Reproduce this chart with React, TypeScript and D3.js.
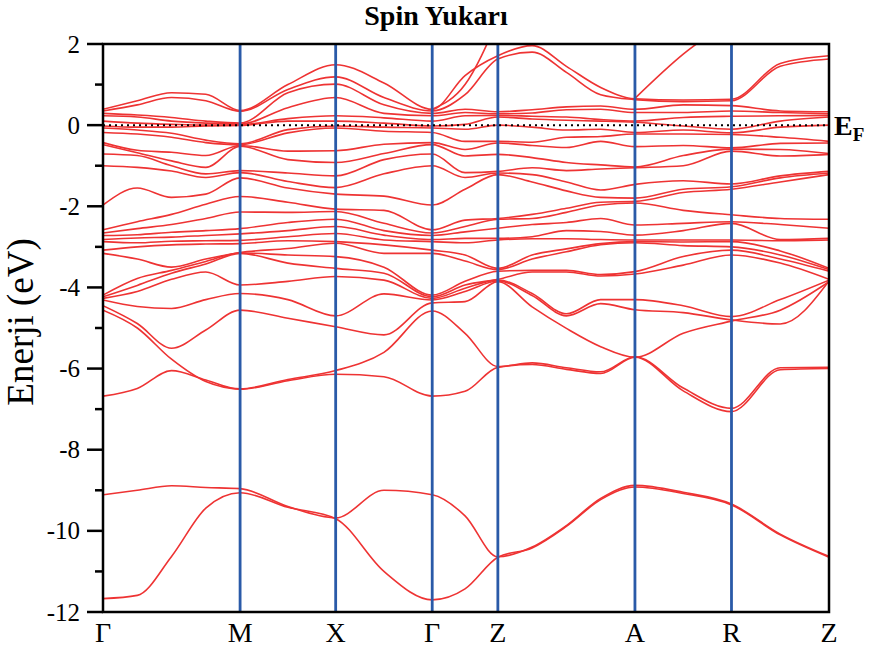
import { useEffect, useRef } from "react";
import * as d3 from "d3";

// k-path sample positions (units of pi/a) and high-symmetry points
const kPoints = [0, 0.355, 0.71, 1.065, 1.42, 1.915, 2.41, 2.91, 3.41, 3.75, 4.09, 4.445, 4.8, 5.155, 5.51, 6.01, 6.51, 7.015, 7.52];
const symK = [0, 1.42, 2.41, 3.41, 4.09, 5.51, 6.51, 7.52];
const symLabels = ["Γ", "M", "X", "Γ", "Z", "A", "R", "Z"];
const yMajor = [2, 0, -2, -4, -6, -8, -10, -12];
const yMinor = [1, -1, -3, -5, -7, -9, -11];

type Band = (number | null)[];

// bands, one value per k-point (eV)
const deepBands: Band[] = [
  [-11.67, -11.59, -10.63, -9.44, -9.06, -9.42, -9.7, -11.0, -11.7, -11.43, -10.65, -10.42, -9.89, -9.23, -8.92, -9.08, -9.36, -10.1, -10.65],
  [-9.11, -9.0, -8.89, -8.93, -8.96, -9.4, -9.68, -9.0, -9.11, -9.63, -10.64, -10.4, -9.87, -9.2, -8.88, -9.05, -9.34, -10.08, -10.63],
];

const lowBands: Band[] = [
  [-6.68, -6.49, -6.05, -6.28, -6.51, -6.3, -6.14, -6.2, -6.68, -6.56, -5.97, -5.9, -6.02, -6.12, -5.72, -6.55, -7.06, -6.03, -6.0],
  [-4.56, -5.0, -5.77, -6.32, -6.5, -6.27, -6.05, -5.6, -4.58, -5.13, -5.95, -5.86, -5.98, -6.08, -5.71, -6.48, -6.98, -5.98, -5.97],
  [-4.45, -4.89, -5.5, -5.05, -4.56, -4.76, -4.97, -5.17, -4.38, -4.35, -3.86, -4.48, -5.01, -5.46, -5.72, -5.13, -4.83, -4.56, -3.86],
];

const midBands: Band[] = [
  [-4.31, -4.47, -4.52, -4.3, -4.15, -4.3, -4.7, -4.16, -4.31, -4.1, -3.84, -4.2, -4.7, -4.4, -4.55, -4.62, -4.8, -4.9, -3.84],
  [-4.27, -4.1, -3.8, -3.62, -3.94, -3.85, -3.73, -3.82, -4.27, -4.02, -3.82, -4.15, -4.65, -4.3, -4.3, -4.45, -4.72, -4.3, -3.82],
  [-4.23, -3.95, -3.65, -3.42, -3.16, -3.4, -3.53, -3.65, -4.23, -3.94, -3.8, -3.62, -3.62, -3.72, -3.67, -3.45, -3.2, -3.4, -3.8],
  [-4.19, -3.78, -3.58, -3.36, -3.15, -3.2, -3.24, -3.5, -4.19, -3.85, -3.6, -3.58, -3.58, -3.68, -3.61, -3.24, -3.08, -3.3, -3.6],
  [-3.16, -3.3, -3.5, -3.3, -3.14, -3.04, -2.91, -3.16, -3.16, -3.35, -3.56, -3.3, -3.12, -2.95, -2.9, -2.97, -3.0, -3.2, -3.56],
  [-3.08, -3.0, -2.95, -2.93, -2.92, -2.85, -2.87, -2.95, -3.08, -3.2, -3.53, -3.2, -3.05, -2.92, -2.87, -2.88, -2.87, -3.1, -3.53],
  [-2.87, -2.9, -2.86, -2.85, -2.84, -2.75, -2.67, -2.83, -2.87, -2.9, -2.83, -2.8, -2.8, -2.82, -2.83, -2.83, -2.83, -2.85, -2.83],
  [-2.82, -2.78, -2.76, -2.72, -2.68, -2.6, -2.5, -2.71, -2.82, -2.79, -2.79, -2.75, -2.6, -2.62, -2.71, -2.6, -2.42, -2.82, -2.79],
  [-2.72, -2.7, -2.64, -2.6, -2.55, -2.4, -2.32, -2.6, -2.72, -2.63, -2.54, -2.45, -2.4, -2.3, -2.46, -2.42, -2.38, -2.45, -2.54],
  [-2.66, -2.55, -2.45, -2.3, -2.14, -2.15, -2.13, -2.42, -2.66, -2.5, -2.32, -2.3, -2.15, -1.97, -1.92, -2.1, -2.21, -2.3, -2.32],
  [-2.58, -2.38, -2.2, -1.95, -1.76, -1.9, -2.07, -2.1, -2.58, -2.34, -2.3, -2.2, -2.05, -1.9, -1.88, -1.66, -1.58, -1.4, -1.22],
];

const upperBands: Band[] = [
  [-1.97, -1.55, -1.78, -1.7, -1.3, -1.55, -1.7, -1.75, -1.97, -1.58, -1.22, -1.4, -1.62, -1.78, -1.8, -1.58, -1.52, -1.3, -1.18],
  [-1.0, -1.04, -1.13, -1.29, -1.17, -1.39, -1.54, -1.2, -1.0, -1.29, -1.18, -1.22, -1.4, -1.6, -1.46, -1.37, -1.45, -1.25, -1.14],
  [-0.71, -0.75, -1.0, -1.2, -1.12, -1.18, -1.25, -0.85, -0.71, -1.17, -1.14, -1.05, -1.12, -1.08, -1.05, -1.0, -0.64, -0.76, -0.72],
  [-0.48, -0.68, -0.88, -1.04, -0.52, -0.85, -0.92, -0.7, -0.48, -0.76, -0.72, -0.8, -0.92, -0.98, -1.03, -0.75, -0.59, -0.6, -0.7],
  [-0.43, -0.62, -0.67, -0.75, -0.5, -0.64, -0.63, -0.47, -0.43, -0.6, -0.44, -0.5, -0.55, -0.4, -0.53, -0.5, -0.56, -0.45, -0.44],
  [-0.18, -0.22, -0.3, -0.43, -0.48, -0.19, -0.07, -0.15, -0.18, -0.4, -0.4, -0.42, -0.3, -0.28, -0.22, -0.22, -0.23, -0.3, -0.4],
  [-0.07, -0.12, -0.2, -0.37, -0.46, -0.11, -0.02, -0.05, -0.07, -0.1, 0.0, -0.05, -0.12, -0.1, -0.18, -0.12, -0.19, -0.05, 0.0],
  [-0.02, -0.05, -0.05, -0.02, -0.01, 0.1, 0.1, 0.05, -0.02, 0.02, 0.2, 0.15, 0.12, 0.1, 0.07, -0.02, -0.1, 0.1, 0.2],
  [0.1, 0.05, 0.02, 0.0, 0.01, 0.16, 0.23, 0.18, 0.1, 0.23, 0.24, 0.22, 0.2, 0.14, 0.1, 0.19, 0.22, 0.23, 0.24],
  [0.23, 0.2, 0.1, 0.05, 0.03, 0.43, 0.68, 0.29, 0.23, 0.31, 0.28, 0.3, 0.38, 0.39, 0.31, 0.31, 0.35, 0.31, 0.28],
  [0.29, 0.25, 0.19, 0.1, 0.05, 0.8, 1.01, 0.5, 0.29, 0.39, 0.33, 0.38, 0.45, 0.47, 0.39, 0.5, 0.48, 0.35, 0.33],
  [0.35, 0.5, 0.68, 0.6, 0.34, 0.88, 1.19, 0.68, 0.35, 0.75, 1.63, 1.8, 1.3, 0.75, 0.63, 0.58, 0.6, 1.45, 1.63],
  [0.39, 0.6, 0.8, 0.76, 0.36, 1.0, 1.49, 1.04, 0.39, 1.22, 1.71, 1.96, 1.45, 0.93, 0.65, 0.62, 0.64, 1.52, 1.71],
];

// bands that only enter the window on part of the path
const partialBands: Band[] = [
  [null, null, null, null, null, null, null, null, 0.39, 1.0, 2.6, null, null, null, null, null, null, null, null],
  [null, null, null, null, null, null, null, null, null, null, null, null, null, null, 0.66, 1.75, 2.6, null, null],
];

const W = 879;
const H = 652;
const left = 103;
const right = 829;
const top = 44;
const bottom = 612;
const serif = "'Liberation Serif', 'Times New Roman', Times, serif";

export default function App(): JSX.Element {
  const ref = useRef<SVGSVGElement | null>(null);

  useEffect(() => {
    if (!ref.current) return;
    const svg = d3.select(ref.current);
    svg.selectAll("*").remove();

    const x = d3.scaleLinear().domain([0, symK[symK.length - 1]]).range([left, right]);
    const y = d3.scaleLinear().domain([-12, 2]).range([bottom, top]);

    svg.append("defs")
      .append("clipPath")
      .attr("id", "plot-clip")
      .append("rect")
      .attr("x", left)
      .attr("y", top)
      .attr("width", right - left)
      .attr("height", bottom - top);

    const line = d3
      .line<number | null>()
      .defined((d) => d !== null)
      .x((_, i) => x(kPoints[i]))
      .y((d) => y(d as number))
      .curve(d3.curveMonotoneX);

    const allBands = [...deepBands, ...lowBands, ...midBands, ...upperBands, ...partialBands];

    svg.append("g")
      .attr("clip-path", "url(#plot-clip)")
      .selectAll("path")
      .data(allBands)
      .join("path")
      .attr("d", (d) => line(d))
      .attr("fill", "none")
      .attr("stroke", "#ee3333")
      .attr("stroke-width", 1.6);

    // high-symmetry verticals
    svg.append("g")
      .selectAll("line")
      .data(symK.slice(1, -1))
      .join("line")
      .attr("x1", (d) => x(d))
      .attr("x2", (d) => x(d))
      .attr("y1", top)
      .attr("y2", bottom)
      .attr("stroke", "#2a5aa8")
      .attr("stroke-width", 2.8);

    // Fermi level
    svg.append("line")
      .attr("x1", left)
      .attr("x2", right)
      .attr("y1", y(0))
      .attr("y2", y(0))
      .attr("stroke", "#000")
      .attr("stroke-width", 2)
      .attr("stroke-dasharray", "2 4");

    // frame
    svg.append("rect")
      .attr("x", left)
      .attr("y", top)
      .attr("width", right - left)
      .attr("height", bottom - top)
      .attr("fill", "none")
      .attr("stroke", "#000")
      .attr("stroke-width", 2.5);

    const ticks = svg.append("g");
    ticks.selectAll("line.major")
      .data(yMajor)
      .join("line")
      .attr("class", "major")
      .attr("x1", left - 16)
      .attr("x2", left)
      .attr("y1", (d) => y(d))
      .attr("y2", (d) => y(d))
      .attr("stroke", "#000")
      .attr("stroke-width", 2.5);
    ticks.selectAll("line.minor")
      .data(yMinor)
      .join("line")
      .attr("class", "minor")
      .attr("x1", left - 8)
      .attr("x2", left)
      .attr("y1", (d) => y(d))
      .attr("y2", (d) => y(d))
      .attr("stroke", "#000")
      .attr("stroke-width", 2.5);
    ticks.selectAll("text")
      .data(yMajor)
      .join("text")
      .attr("x", 80)
      .attr("y", (d) => y(d) + 8.5)
      .attr("text-anchor", "end")
      .attr("font-family", serif)
      .attr("font-size", 25)
      .text((d) => String(d));

    svg.append("g")
      .selectAll("text")
      .data(symK)
      .join("text")
      .attr("x", (d) => x(d))
      .attr("y", 642)
      .attr("text-anchor", "middle")
      .attr("font-family", serif)
      .attr("font-size", 28)
      .text((_, i) => symLabels[i]);

    svg.append("text")
      .attr("transform", "translate(33,322) rotate(-90)")
      .attr("text-anchor", "middle")
      .attr("font-family", serif)
      .attr("font-size", 37)
      .text("Enerji (eV)");

    svg.append("text")
      .attr("x", 436)
      .attr("y", 25)
      .attr("text-anchor", "middle")
      .attr("font-family", serif)
      .attr("font-weight", "bold")
      .attr("font-size", 28)
      .text("Spin Yukarı");

    const ef = svg.append("text")
      .attr("x", 834)
      .attr("y", 135)
      .attr("font-family", serif)
      .attr("font-weight", "bold")
      .attr("font-size", 28);
    ef.append("tspan").text("E");
    ef.append("tspan").attr("font-size", 19).attr("dy", 6).text("F");
  }, []);

  return (
    <div style={{ position: "absolute", left: 0, top: 0 }}>
      <svg ref={ref} width={W} height={H} style={{ display: "block", background: "#fff" }} />
    </div>
  );
}
